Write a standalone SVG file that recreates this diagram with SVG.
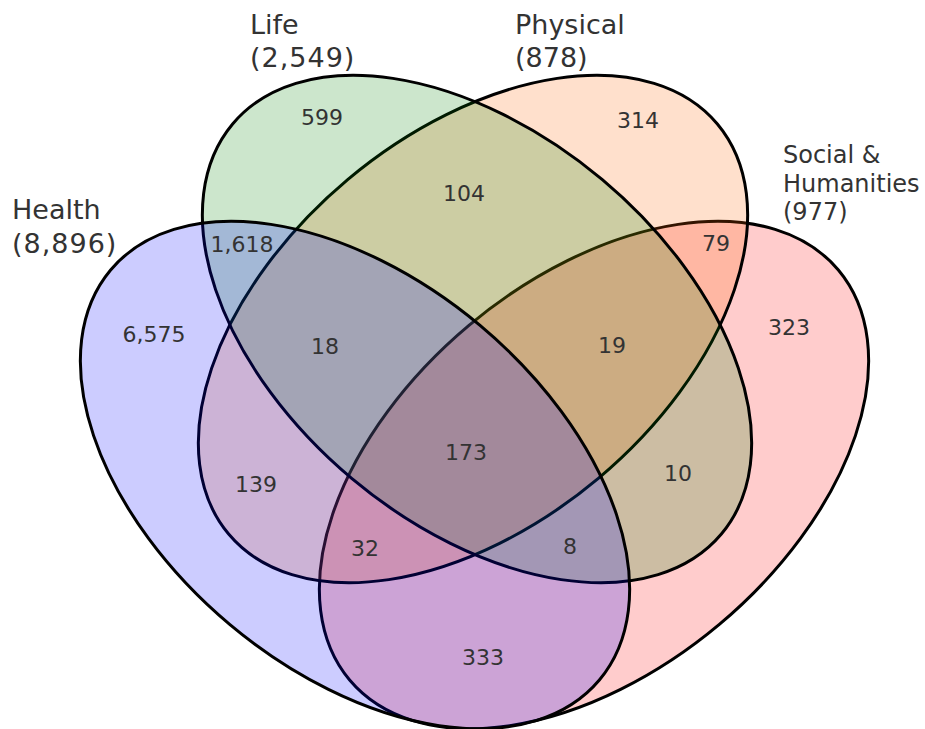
<svg xmlns="http://www.w3.org/2000/svg" width="925" height="729" viewBox="0 0 925 729">
<style>
.set{stroke:#000;stroke-width:3;fill-opacity:0.2}
.lbl{font-family:"DejaVu Sans","Liberation Sans",sans-serif;font-size:27px;fill:#333}
.lbl2{font-family:"DejaVu Sans","Liberation Sans",sans-serif;font-size:24px;fill:#333}
.num{font-family:"DejaVu Sans","Liberation Sans",sans-serif;font-size:22px;fill:#333;text-anchor:middle}
</style>
<rect width="925" height="729" fill="#fff"/>
<g id="social">
<ellipse class="set" cx="594" cy="475" rx="319" ry="195" transform="rotate(-40 594 475)" fill="#ff0000"/>
<text class="lbl2" x="783" y="163">Social &amp;</text>
<text class="lbl2" x="783" y="192">Humanities</text>
<text class="lbl2" x="783" y="220">(977)</text>
</g>
<g id="physical">
<ellipse class="set" cx="473" cy="329" rx="319" ry="195" transform="rotate(-40 473 329)" fill="#ff6600"/>
<text class="lbl" x="515" y="34">Physical</text>
<text class="lbl" x="515" y="67">(878)</text>
</g>
<g id="life">
<ellipse class="set" cx="477" cy="329" rx="319" ry="195" transform="rotate(40 477 329)" fill="#008000"/>
<text class="lbl" x="250" y="34">Life</text>
<text class="lbl" x="250" y="67" letter-spacing="1">(2,549)</text>
</g>
<g id="health">
<ellipse class="set" cx="355" cy="475" rx="319" ry="195" transform="rotate(40 355 475)" fill="#0000ff"/>
<text class="lbl" x="12" y="219">Health</text>
<text class="lbl" x="12" y="253" letter-spacing="1">(8,896)</text>
</g>
<g id="counts">
<text class="num" x="322" y="125">599</text>
<text class="num" x="638" y="128">314</text>
<text class="num" x="464" y="201">104</text>
<text class="num" x="242" y="252">1,618</text>
<text class="num" x="154" y="342">6,575</text>
<text class="num" x="716" y="251">79</text>
<text class="num" x="789" y="335">323</text>
<text class="num" x="325" y="354">18</text>
<text class="num" x="612" y="353">19</text>
<text class="num" x="466" y="460">173</text>
<text class="num" x="256" y="492">139</text>
<text class="num" x="678" y="481">10</text>
<text class="num" x="365" y="556">32</text>
<text class="num" x="570" y="554">8</text>
<text class="num" x="483" y="665">333</text>
</g>
</svg>
